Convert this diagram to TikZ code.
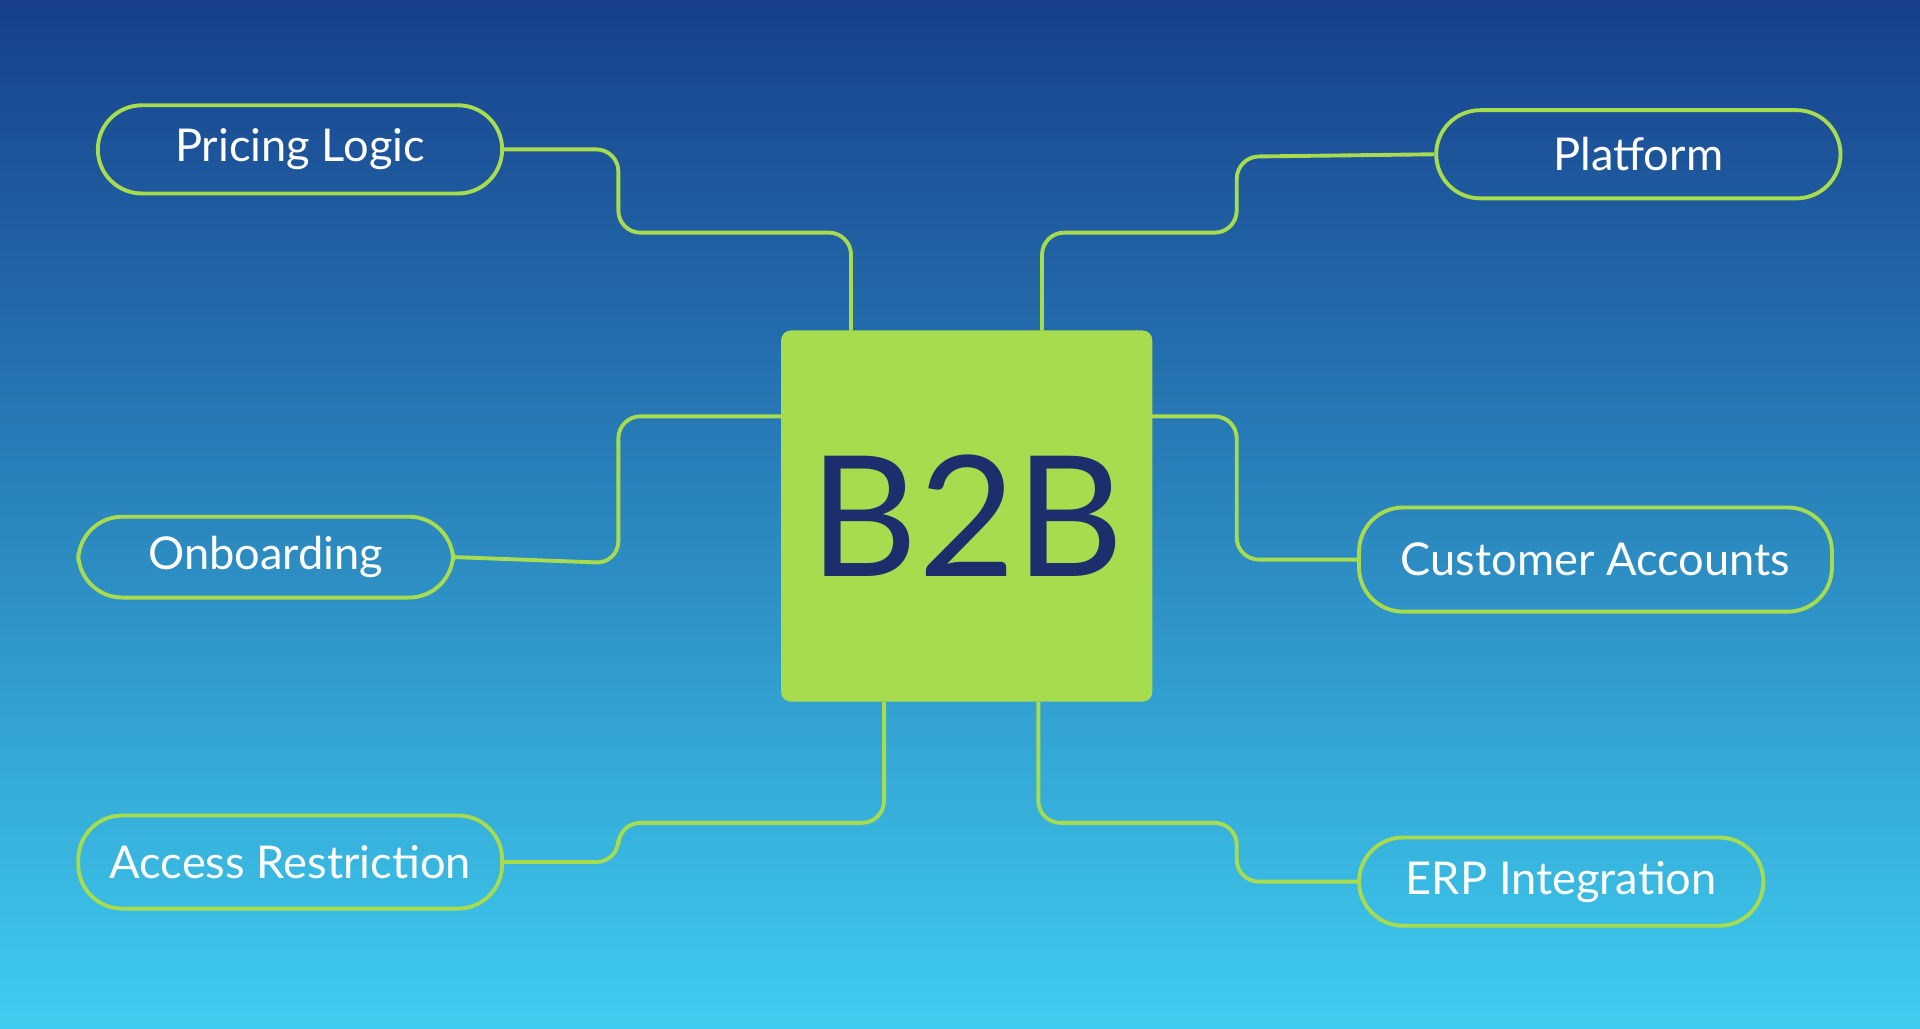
\documentclass[tikz,border=0pt]{standalone}
\usepackage{fontspec}
\setmainfont{Lato}
\usetikzlibrary{positioning}
\definecolor{navytop}{HTML}{173F8B}
\definecolor{skybot}{HTML}{3ECDF0}
\definecolor{lime}{HTML}{A6DC4E}
\definecolor{inkblue}{HTML}{1E2E6C}
\tikzset{
  pill/.style={draw=lime, line width=0.9pt, rounded corners=0.36cm, minimum height=0.72cm, inner sep=0pt, text=white, font=\fontsize{10.5}{12}\selectfont},
  link/.style={draw=lime, line width=0.9pt, rounded corners=0.18cm}
}
\begin{document}
\begin{tikzpicture}[x=0.01cm,y=-0.01cm]
    % Background
    \shade[top color=navytop, bottom color=skybot] (0,0) rectangle (1568,840);
    \useasboundingbox (0,0) rectangle (1568,840);

    % Hub
    \node[fill=lime, rounded corners=0.08cm, minimum width=3.03cm, minimum height=3.03cm, text=inkblue, font=\fontsize{39}{40}\selectfont] (hub) at (789.5,421.5) {B2B};

    % Topics
    \node[pill, minimum width=3.3cm] (pricing) at (245,122) {Pricing Logic};
    \node[pill, minimum width=3.3cm] (platform) at (1338,126) {Platform};
    \node[pill, minimum width=3.06cm, minimum height=0.66cm] (onboard) at (217,455) {Onboarding};
    \node[pill, minimum width=3.86cm, minimum height=0.85cm] (customer) at (1303,457) {Customer Accounts};
    \node[pill, minimum width=3.46cm, minimum height=0.76cm] (access) at (237,704) {Access Restriction};
    \node[pill, minimum width=3.3cm] (erp) at (1275,720) {ERP Integration};

    % Connectors
    \draw[link] (pricing.east) -- (505,122) -- (505,190) -- (695,190) -- (695,270);
    \draw[link] (platform.west) -- (1010,128) -- (1010,190) -- (851,190) -- (851,270);
    \draw[link] (onboard.east) -- (505,460) -- (505,340) -- (638,340);
    \draw[link] (941,340) -- (1010,340) -- (1010,457) -- (customer.west);
    \draw[link] (access.east) -- (505,704) -- (505,672) -- (722,672) -- (722,573);
    \draw[link] (848,573) -- (848,672) -- (1010,672) -- (1010,720) -- (erp.west);
\end{tikzpicture}
\end{document}
